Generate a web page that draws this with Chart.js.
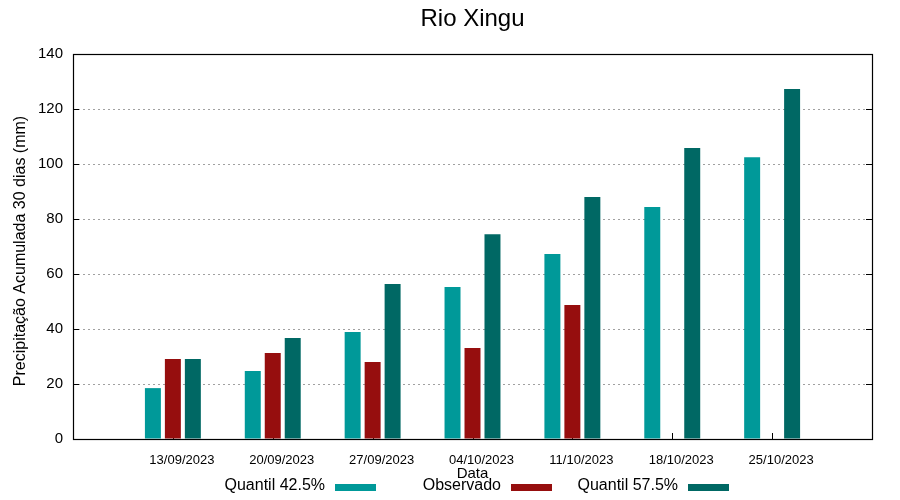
<!DOCTYPE html>
<html>
<head>
<meta charset="utf-8">
<script src="https://cdn.jsdelivr.net/npm/chart.js@4/dist/chart.umd.min.js"></script>
<style>
html,body{margin:0;padding:0;background:#fff;}
#wrap{width:900px;height:500px;position:relative;}
</style>
</head>
<body>
<div id="wrap"><canvas id="c" width="900" height="500"></canvas></div>
<script>
const chartTitle = 'Rio Xingu';
const yTitle = 'Precipitação Acumulada 30 dias (mm)';
const xTitle = 'Data';
// first and last labels are empty padding slots of the x axis
const categories = ['', '13/09/2023', '20/09/2023', '27/09/2023', '04/10/2023', '11/10/2023', '18/10/2023', '25/10/2023', ''];
const seriesNames = ['Quantil 42.5%', 'Observado', 'Quantil 57.5%'];
const quantil425 = [null, 18.5, 24.7, 38.9, 55.3, 67.3, 84.4, 102.5, null];
const observado  = [null, 29.1, 31.3, 28.0, 33.1, 48.7, null, null, null];
const quantil575 = [null, 29.1, 36.7, 56.4, 74.5, 88.0, 105.8, 127.3, null];
const yTicks = [0, 20, 40, 60, 80, 100, 120, 140];
const colors = ['#009999', '#960e0e', '#006864'];

const FONT = '"Liberation Sans", Arial, sans-serif';

const framePlugin = {
  id: 'frame',
  beforeDatasetsDraw(chart) {
    const ctx = chart.ctx, a = chart.chartArea;
    const x = chart.scales.x, y = chart.scales.y;
    ctx.save();
    ctx.strokeStyle = '#000';
    ctx.lineWidth = 1;
    ctx.beginPath();
    for (let i = 1; i < categories.length - 1; i++) {
      const px = Math.round(x.getPixelForValue(i)) + 0.5;
      ctx.moveTo(px, a.bottom);
      ctx.lineTo(px, a.bottom - 6);
    }
    yTicks.forEach(v => {
      const py = Math.round(y.getPixelForValue(v)) + 0.5;
      ctx.moveTo(a.left, py); ctx.lineTo(a.left + 6, py);
      ctx.moveTo(a.right, py); ctx.lineTo(a.right - 6, py);
    });
    ctx.stroke();
    ctx.restore();
  },
  afterDatasetsDraw(chart) {
    const ctx = chart.ctx, a = chart.chartArea;
    ctx.save();
    ctx.strokeStyle = '#000';
    ctx.lineWidth = 1.2;
    ctx.strokeRect(Math.round(a.left) + 0.5, Math.round(a.top) + 0.5,
                   Math.round(a.right - a.left), Math.round(a.bottom - a.top));
    ctx.restore();
  },
  afterDraw(chart) {
    const ctx = chart.ctx, a = chart.chartArea;
    ctx.save();
    ctx.fillStyle = '#000';
    ctx.textBaseline = 'middle';
    ctx.font = '24px ' + FONT;
    ctx.textAlign = 'center';
    ctx.fillText(chartTitle, (a.left + a.right) / 2, 19);
    ctx.font = '15px ' + FONT;
    ctx.fillText(xTitle, (a.left + a.right) / 2, 474);
    // y axis title
    ctx.save();
    ctx.translate(21, 251);
    ctx.rotate(-Math.PI / 2);
    ctx.font = '16px ' + FONT;
    ctx.fillText(yTitle, 0, 0);
    ctx.restore();
    // legend
    ctx.font = '16px ' + FONT;
    ctx.textAlign = 'right';
    const textRight = [325, 501, 678];
    chart.data.datasets.forEach((ds, i) => {
      ctx.fillStyle = '#000';
      ctx.fillText(ds.label, textRight[i], 486);
      ctx.fillStyle = ds.backgroundColor;
      ctx.fillRect(textRight[i] + 10, 484, 41, 7);
    });
    ctx.restore();
  }
};

new Chart(document.getElementById('c'), {
  type: 'bar',
  data: {
    labels: categories,
    datasets: [
      { label: seriesNames[0], data: quantil425, backgroundColor: colors[0] },
      { label: seriesNames[1], data: observado, backgroundColor: colors[1] },
      { label: seriesNames[2], data: quantil575, backgroundColor: colors[2] }
    ]
  },
  options: {
    responsive: false,
    animation: false,
    devicePixelRatio: 1,
    layout: { padding: { top: 54, right: 28, left: 0, bottom: 0 } },
    categoryPercentage: 0.6,
    barPercentage: 0.8,
    plugins: {
      legend: { display: false },
      title: { display: false },
      tooltip: { enabled: false }
    },
    scales: {
      x: {
        type: 'category',
        offset: false,
        grid: { display: false, drawTicks: false },
        border: { display: false },
        ticks: {
          color: '#000',
          font: { family: FONT, size: 13 },
          padding: 14,
          labelOffset: 9,
          maxRotation: 0,
          autoSkip: false
        },
        afterFit(s) { s.height = 61; }
      },
      y: {
        min: 0, max: 140,
        afterBuildTicks(s) { s.ticks = yTicks.map(v => ({ value: v })); },
        grid: {
          color: ctx => (ctx.tick && (ctx.tick.value === 0 || ctx.tick.value === 140)) ? 'rgba(0,0,0,0)' : '#a0a0a0',
          lineWidth: 1,
          drawTicks: false
        },
        border: { display: false, dash: [2, 3] },
        ticks: {
          color: '#000',
          font: { family: FONT, size: 15 },
          padding: 10
        },
        title: { display: false },
        afterFit(s) { s.width = 73; }
      }
    }
  },
  plugins: [framePlugin]
});
</script>
</body>
</html>
